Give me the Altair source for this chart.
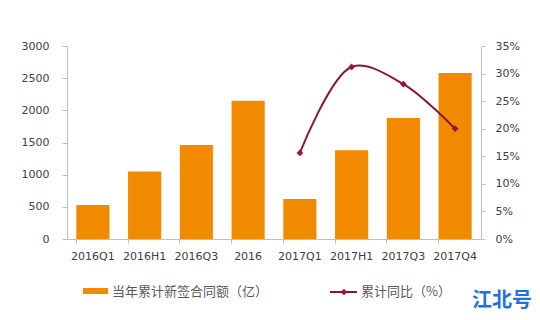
import altair as alt
import pandas as pd

categories = ["2016Q1", "2016H1", "2016Q3", "2016", "2017Q1", "2017H1", "2017Q3", "2017Q4"]
amounts = [530, 1050, 1460, 2150, 620, 1380, 1880, 2580]
yoy_categories = ["2017Q1", "2017H1", "2017Q3", "2017Q4"]
yoy_values = [0.156, 0.312, 0.281, 0.200]
left_ticks = [0, 500, 1000, 1500, 2000, 2500, 3000]
right_ticks = [0, 0.05, 0.10, 0.15, 0.20, 0.25, 0.30, 0.35]
legend_bar = "当年累计新签合同额（亿）"
legend_line = "累计同比（%）"
watermark = "江北号"

bars_df = pd.DataFrame({"cat": categories, "amount": amounts})
line_df = pd.DataFrame({"cat": yoy_categories, "yoy": yoy_values})
one = pd.DataFrame({"k": [0]})

FONT = "DejaVu Sans"
CJK = "Noto Sans CJK SC"
BAR = "#F28A00"
LINE = "#8B1538"
AXC = "#BFBFBF"
LAB = "#404040"

xenc = alt.X(
    "cat:N",
    sort=categories,
    scale=alt.Scale(domain=categories, paddingInner=0.36, paddingOuter=0.18),
    axis=alt.Axis(title=None, labelAngle=0, labelFontSize=11, labelColor=LAB, labelFont=FONT,
                  domainColor=AXC, tickColor=AXC, tickSize=4, bandPosition=0, labelPadding=7),
)

bars = alt.Chart(bars_df).mark_bar(color=BAR).encode(
    x=xenc,
    y=alt.Y("amount:Q", scale=alt.Scale(domain=[0, 3000]),
            axis=alt.Axis(title=None, values=left_ticks, format="d", grid=False, labelFontSize=11,
                          labelColor=LAB, labelFont=FONT, domainColor=AXC, tickColor=AXC,
                          tickSize=5, labelPadding=13)),
)

line = alt.Chart(line_df).mark_line(
    color=LINE, strokeWidth=2, interpolate="catmull-rom",
    point=alt.OverlayMarkDef(shape="diamond", filled=True, color="#A0103C", size=45, opacity=1),
).encode(
    x=alt.X("cat:N", sort=categories),
    y=alt.Y("yoy:Q", scale=alt.Scale(domain=[0, 0.35]),
            axis=alt.Axis(title=None, orient="right", values=right_ticks, format=".0%", grid=False,
                          labelFontSize=11, labelColor=LAB, labelFont=FONT, domainColor=AXC,
                          tickColor=AXC, tickSize=4, labelPadding=10)),
)

leg_rect = alt.Chart(one).mark_rect(color=BAR).encode(
    x=alt.value(16), x2=alt.value(41), y=alt.value(242), y2=alt.value(248))
leg_text1 = alt.Chart(one).mark_text(text=legend_bar, font=CJK, fontSize=13, color="#595959",
                                     align="left", baseline="middle").encode(
    x=alt.value(45), y=alt.value(246))
leg_rule = alt.Chart(one).mark_rule(color=LINE, strokeWidth=2).encode(
    x=alt.value(263), x2=alt.value(290), y=alt.value(246))
leg_pt = alt.Chart(one).mark_point(shape="diamond", filled=True, color="#A0103C", size=40, opacity=1).encode(
    x=alt.value(277), y=alt.value(246))
leg_text2 = alt.Chart(one).mark_text(text=legend_line, font=CJK, fontSize=13, color="#595959",
                                     align="left", baseline="middle").encode(
    x=alt.value(294), y=alt.value(246))
wm = alt.Chart(one).mark_text(text=watermark, font=CJK, fontSize=20, fontWeight="bold", color="#1F6FE5",
                              align="left", baseline="middle").encode(
    x=alt.value(405), y=alt.value(255))

main = alt.layer(bars, line).resolve_scale(y="independent")
chart = alt.layer(main, leg_rect, leg_text1, leg_rule, leg_pt, leg_text2, wm).properties(
    width=414, height=193,
    autosize=alt.AutoSizeParams(type="none"),
    padding={"left": 67, "top": 46, "right": 59, "bottom": 81},
    background="white",
).configure_view(stroke=None)

chart.save("out.html", embed_options={"renderer": "svg", "actions": False})
